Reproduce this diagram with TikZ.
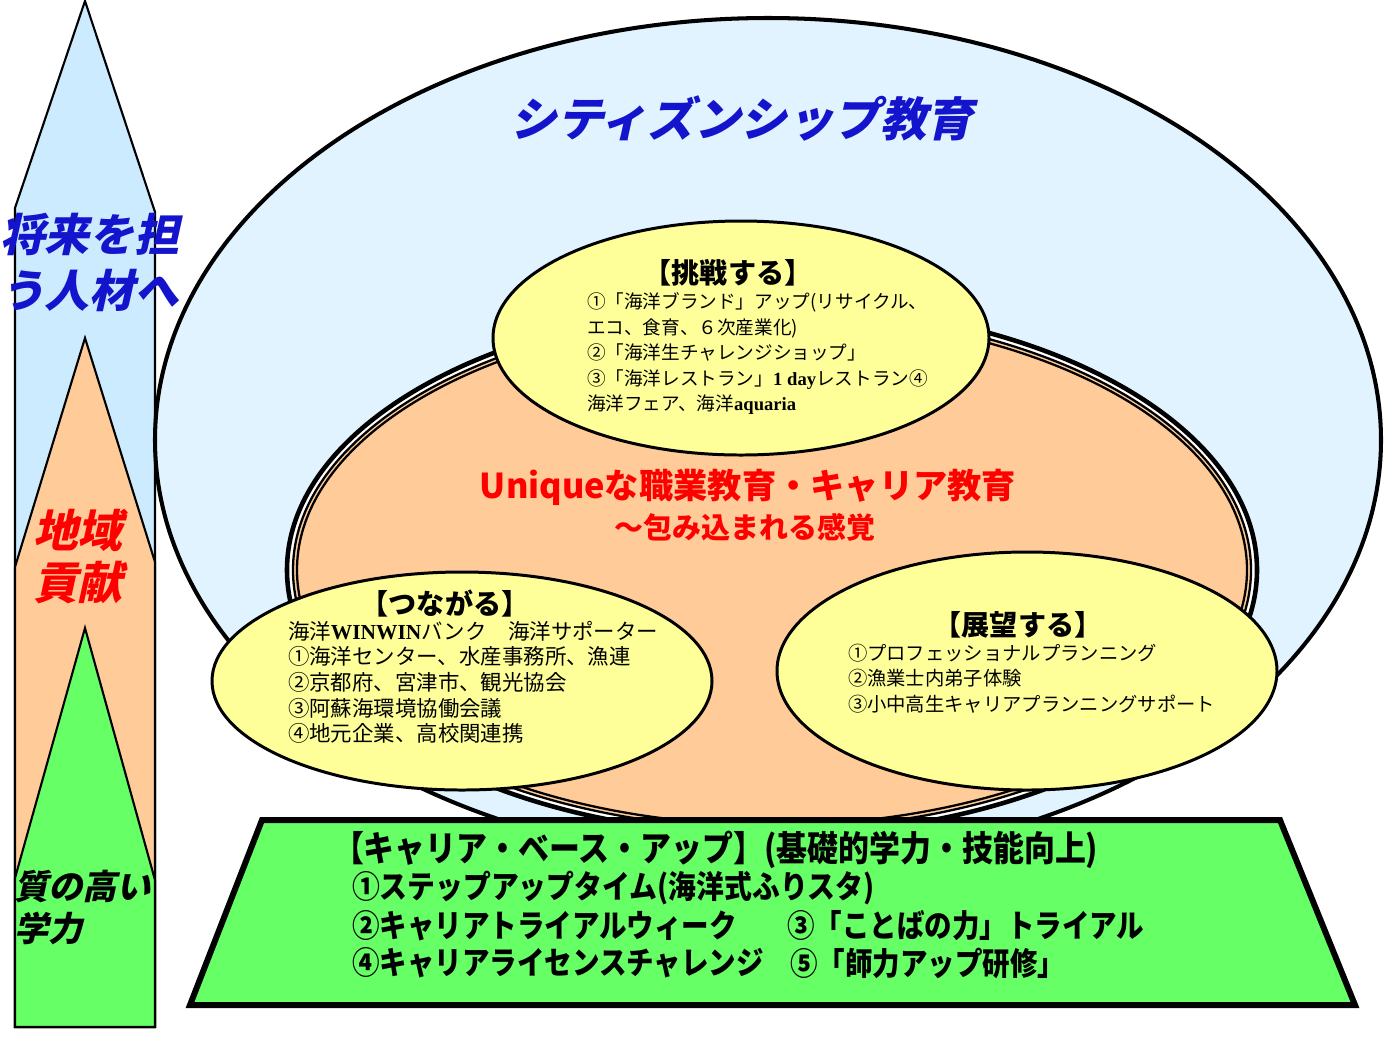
\documentclass[tikz,border=0pt]{standalone}
\usepackage{fontspec}
\setmainfont{Noto Sans CJK JP}
\newfontfamily\jp{Noto Sans CJK JP}
\newfontfamily\jpit{Noto Sans CJK JP}[FakeSlant=0.22]
\newfontfamily\lserif{Liberation Serif}
\definecolor{towerblue}{HTML}{CCEBFF}
\definecolor{skyfill}{HTML}{E0F3FF}
\definecolor{peach}{HTML}{FFCC99}
\definecolor{yel}{HTML}{FFFF99}
\definecolor{grn}{HTML}{66FF66}
\definecolor{titleblue}{HTML}{1414CC}
\definecolor{uniqred}{HTML}{FF0000}
\tikzset{
  towerpart/.style={draw=black, line width=1.2pt, line join=miter},
  yellowbubble/.style={fill=yel, draw=black, line width=1.7pt},
  txt/.style={inner sep=0pt, outer sep=0pt},
  bodytxt/.style={txt, align=left, anchor=north west},
  headtxt/.style={txt, font=\jp\bfseries\fontsize{16}{19}\selectfont},
  greenitem/.style={txt, anchor=west, font=\jp\bfseries\fontsize{18}{21}\selectfont},
}
\begin{document}
\begin{tikzpicture}[x=0.02cm,y=-0.02cm]
\fill[white] (0,0) rectangle (1387,1036);
\path[use as bounding box] (0,0) rectangle (1387,1036);

% ---------- left tower ----------
\path[towerpart, fill=towerblue] (15,1027) -- (15,208) -- (85,1) -- (155,212) -- (155,1027) -- cycle;
\path[towerpart, fill=peach] (15,1027) -- (15,567) -- (85,338) -- (155,562) -- (155,1027) -- cycle;
\path[towerpart, fill=grn] (15,1027) -- (15,878) -- (85,628) -- (155,880) -- (155,1027) -- cycle;

\node[txt, anchor=west, text=titleblue, font=\jpit\bfseries\fontsize{25.5}{28}\selectfont] (t1) at (0,234) {将来を担};
\node[txt, anchor=west, text=titleblue, font=\jpit\bfseries\fontsize{25.5}{28}\selectfont] (t2) at (0,290) {う人材へ};
\node[txt, anchor=west, text=uniqred, font=\jpit\bfseries\fontsize{25.5}{28}\selectfont] (t3) at (33,530) {地域};
\node[txt, anchor=west, text=uniqred, font=\jpit\bfseries\fontsize{25.5}{28}\selectfont] (t4) at (33,583) {貢献};
\node[txt, anchor=west, text=black, font=\jpit\bfseries\fontsize{19.5}{22}\selectfont] (t5) at (14,886) {質の高い};
\node[txt, anchor=west, text=black, font=\jpit\bfseries\fontsize{19.5}{22}\selectfont] (t6) at (14,928) {学力};

% ---------- big blue ellipse ----------
\draw[fill=skyfill, line width=2.3pt] (768,440) ellipse [x radius=613, y radius=422];
\node[txt, text=titleblue, font=\jpit\bfseries\fontsize{26.5}{30}\selectfont] (title) at (742,118) {シティズンシップ教育};

% ---------- orange ellipse with multiple rings ----------
\draw[fill=white, line width=2.6pt] (772,570) ellipse [x radius=485, y radius=265];
\draw[fill=peach, line width=1.3pt] (772,570) ellipse [x radius=479, y radius=259];
\draw[fill=peach, line width=1.3pt] (772,570) ellipse [x radius=475, y radius=255];
\node[txt, text=uniqred, font=\jp\bfseries\fontsize{19.5}{22}\selectfont] (uniq) at (748,487) {Uniqueな職業教育・キャリア教育};
\node[txt, text=uniqred, font=\jp\bfseries\fontsize{16.5}{20}\selectfont] (uniqsub) at (745,527) {～包み込まれる感覚};

% ---------- yellow bubbles ----------
\draw[yellowbubble] (741,338) ellipse [x radius=248, y radius=117];
\node[headtxt] (h1) at (728,273) {【挑戦する】};
\node[bodytxt, font=\jp\fontsize{10.6}{14.5}\selectfont] (b1) at (587,293)
  {①「海洋ブランド」アップ(リサイクル、\\
   エコ、食育、６次産業化)\\
   ②「海洋生チャレンジショップ」\\
   ③「海洋レストラン」{\lserif\bfseries 1 day}レストラン④\\
   海洋フェア、海洋{\lserif\bfseries aquaria}};

\draw[yellowbubble] (462,681) ellipse [x radius=250, y radius=109];
\node[headtxt] (h2) at (445,603) {【つながる】};
\node[bodytxt, font=\jp\fontsize{12.2}{14.6}\selectfont] (b2) at (288,621)
  {海洋{\lserif\bfseries WINWIN}バンク　海洋サポーター\\
   ①海洋センター、水産事務所、漁連\\
   ②京都府、宮津市、観光協会\\
   ③阿蘇海環境協働会議\\
   ④地元企業、高校関連携};

\draw[yellowbubble] (1027,671) ellipse [x radius=250, y radius=119];
\node[headtxt] (h3) at (1018,625) {【展望する】};
\node[bodytxt, font=\jp\fontsize{11}{14.5}\selectfont] (b3) at (848,644)
  {①プロフェッショナルプランニング\\
   ②漁業士内弟子体験\\
   ③小中高生キャリアプランニングサポート};

% ---------- green trapezoid ----------
\draw[fill=grn, line width=3.4pt, line join=miter] (262,820) -- (1280,820) -- (1355,1005) -- (190,1005) -- cycle;
\node[txt, anchor=west, font=\jp\bfseries\fontsize{20}{24}\selectfont] (gh) at (333,850)
  {\scalebox{0.88}[1]{【キャリア・ベース・アップ】(基礎的学力・技能向上)}};
\node[greenitem] (g1) at (352,888) {\scalebox{0.88}[1]{①ステップアップタイム(海洋式ふりスタ)}};
\node[greenitem] (g2) at (352,926) {\scalebox{0.87}[1]{②キャリアトライアルウィーク}};
\node[greenitem] (g3) at (787,926) {\scalebox{0.87}[1]{③「ことばの力」トライアル}};
\node[greenitem] (g4) at (352,963) {\scalebox{0.87}[1]{④キャリアライセンスチャレンジ}};
\node[greenitem] (g5) at (790,963) {\scalebox{0.87}[1]{⑤「師力アップ研修」}};
\end{tikzpicture}
\end{document}
